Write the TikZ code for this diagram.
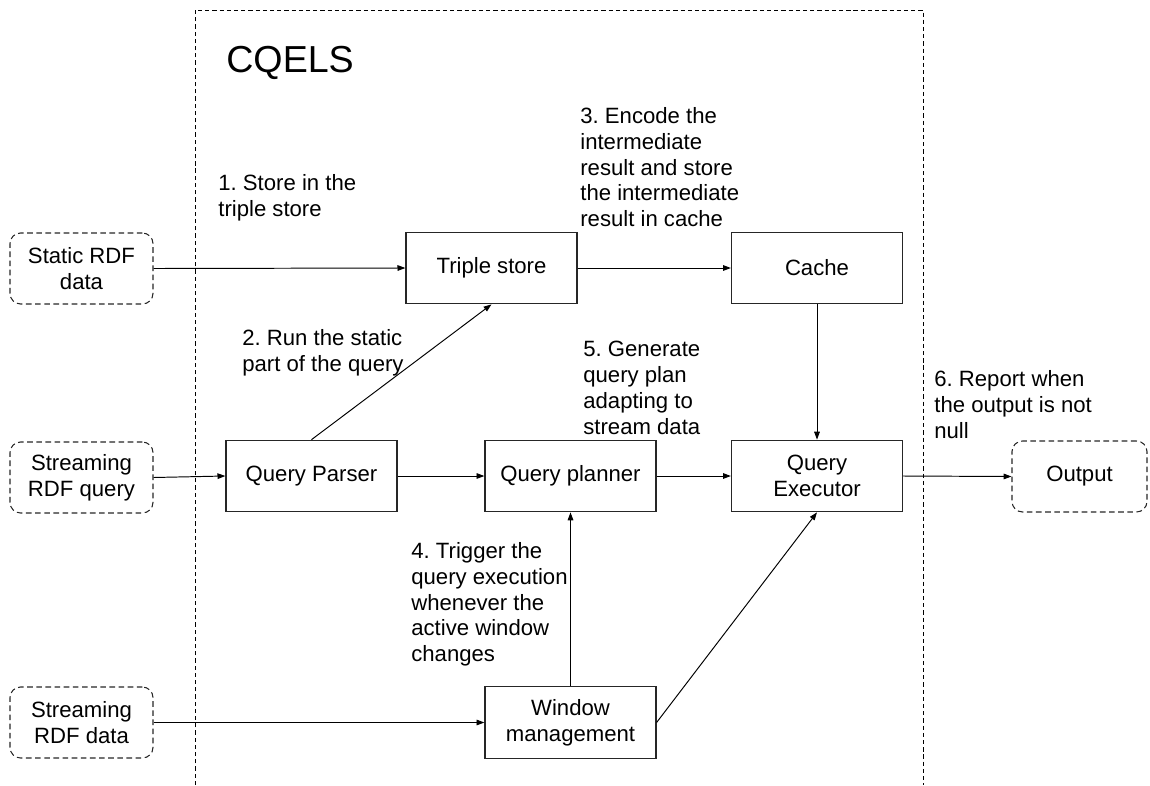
\documentclass[tikz,border=0pt]{standalone}
\usepackage{fontspec}
\setmainfont{Liberation Sans}
\usetikzlibrary{arrows.meta}
\frenchspacing
\begin{document}
\begin{tikzpicture}[x=0.02cm,y=-0.02cm,
  every node/.style={font=\fontsize{12.6}{14.7}\selectfont\frenchspacing, inner sep=0pt},
  procbox/.style={draw=black!85, line width=0.7pt, rectangle, align=center,
    minimum width=3.42cm, minimum height=1.43cm},
  extbox/.style={draw=black!85, line width=0.6pt, rectangle, rounded corners=6pt,
    dash pattern=on 3.2pt off 2pt, align=center,
    minimum width=2.86cm, minimum height=1.42cm},
  lbl/.style={anchor=north west, align=left},
  conn/.style={draw=black, line width=0.55pt, -{Triangle[length=4.5pt,width=3.2pt]}},
  frame/.style={draw=black, line width=0.55pt, dash pattern=on 2.4pt off 1.7pt}
]
\useasboundingbox (0,0) rectangle (1150,785);

% system frame
\draw[frame] (195,785) -- (195,10) -- (923,10) -- (923,785);
\node[anchor=base west, font=\fontsize{21.4}{25}\selectfont] (title) at (226,72) {CQELS};

% external boxes
\node[extbox] (static) at (81.5,268.5) {Static RDF\\data};
\node[extbox] (srq) at (81.5,477.5) {Streaming\\RDF query};
\node[extbox] (srd) at (81.5,722.5) {Streaming\\RDF data};
\node[extbox, minimum width=2.7cm] (output) at (1079.5,476.5) {Output};

% process boxes
\node[procbox] (triple) at (491.5,268) {Triple store};
\node[procbox] (cache) at (817,268) {Cache};
\node[procbox] (parser) at (311.5,476) {Query Parser};
\node[procbox] (planner) at (570.5,476) {Query planner};
\node[procbox] (executor) at (817,476) {Query\\Executor};
\node[procbox] (window) at (570.5,722.5) {Window\\management};

% connectors
\draw[conn] (static.east) -- (triple.west);
\draw[conn] (triple.east) -- (cache.west);
\draw[conn] (srq.east) -- (parser.west);
\draw[conn] (parser.east) -- (planner.west);
\draw[conn] (planner.east) -- (executor.west);
\draw[conn] (executor.east) -- (output.west);
\draw[conn] (cache.south) -- (executor.north);
\draw[conn] (parser.north) -- (triple.south);
\draw[conn] (srd.east) -- (window.west);
\draw[conn] (window.north) -- (planner.south);
\draw[conn] (window.east) -- (executor.south);

% labels
\node[lbl] (l1) at (218,174) {1. Store in the\\triple store};
\node[lbl] (l2) at (242,329) {2. Run the static\\part of the query};
\node[lbl] (l3) at (580,107) {3. Encode the\\intermediate\\result and store\\the intermediate\\result in cache};
\node[lbl] (l4) at (411,542) {4. Trigger the\\query execution\\whenever the\\active window\\changes};
\node[lbl] (l5) at (583,341) {5. Generate\\query plan\\adapting to\\stream data};
\node[lbl] (l6) at (934,370) {6. Report when\\the output is not\\null};
\end{tikzpicture}
\end{document}
